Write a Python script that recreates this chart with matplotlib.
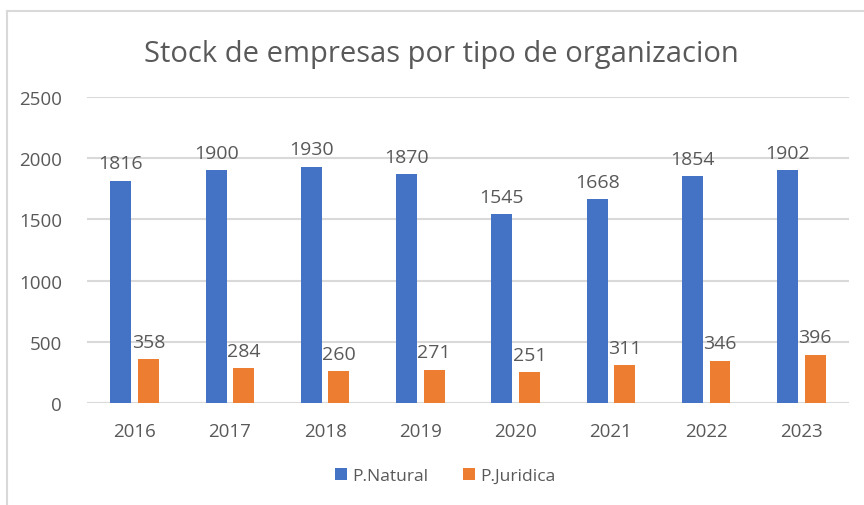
import numpy as np
import matplotlib
matplotlib.use("Agg")
import matplotlib.pyplot as plt
from matplotlib.lines import Line2D

years = ["2016", "2017", "2018", "2019", "2020", "2021", "2022", "2023"]
natural = [1816, 1900, 1930, 1870, 1545, 1668, 1854, 1902]
juridica = [358, 284, 260, 271, 251, 311, 346, 396]

grey_txt = "#595959"
grid_col = "#d9d9d9"
plt.rcParams['font.family'] = ['Open Sans', 'DejaVu Sans']

fig = plt.figure(figsize=(8.64, 5.06), dpi=100)
ax = fig.add_axes([0.1007, 0.2016, 0.882, 0.6047])

x = np.arange(len(years))
w = 0.22
off = 0.145
b1 = ax.bar(x - off, natural, w, color="#4472C4", label="P.Natural", zorder=3)
b2 = ax.bar(x + off, juridica, w, color="#ED7D31", label="P.Juridica", zorder=3)

for bars in (b1, b2):
    for b in bars:
        ax.annotate(str(int(b.get_height())),
                    (b.get_x() + b.get_width() / 2, b.get_height()),
                    xytext=(0, 6), textcoords="offset points",
                    ha="center", va="bottom", fontsize=14, color=grey_txt)

ax.set_xlim(-0.5, len(years) - 0.5)
ax.set_ylim(0, 2500)
ax.set_yticks(range(0, 2501, 500))
ax.set_xticks(x)
ax.set_xticklabels(years)
ax.tick_params(axis="both", length=0, labelsize=13.5, colors=grey_txt)
ax.tick_params(axis="x", pad=14)
ax.tick_params(axis="y", pad=18)
ax.grid(axis="y", color=grid_col, linewidth=1.5, zorder=0)
for s in ax.spines.values():
    s.set_visible(False)

fig.text(0.511, 0.893, "Stock de empresas por tipo de organizacion",
         ha="center", va="center", fontsize=21, color=grey_txt)

leg = fig.legend(handles=[b1, b2], loc="center", bbox_to_anchor=(0.515, 0.057),
                 ncol=2, frameon=False, fontsize=12.5, handlelength=0.7,
                 handleheight=0.7, handletextpad=0.3, columnspacing=2.0)
for t in leg.get_texts():
    t.set_color(grey_txt)

fig.add_artist(Line2D([7 / 864, 7 / 864], [0, 1 - 12 / 506], transform=fig.transFigure,
                      color=grid_col, linewidth=1.5))
fig.add_artist(Line2D([7 / 864, 1], [1 - 12 / 506, 1 - 12 / 506], transform=fig.transFigure,
                      color=grid_col, linewidth=1.5))

fig.savefig("out.png", dpi=100)
